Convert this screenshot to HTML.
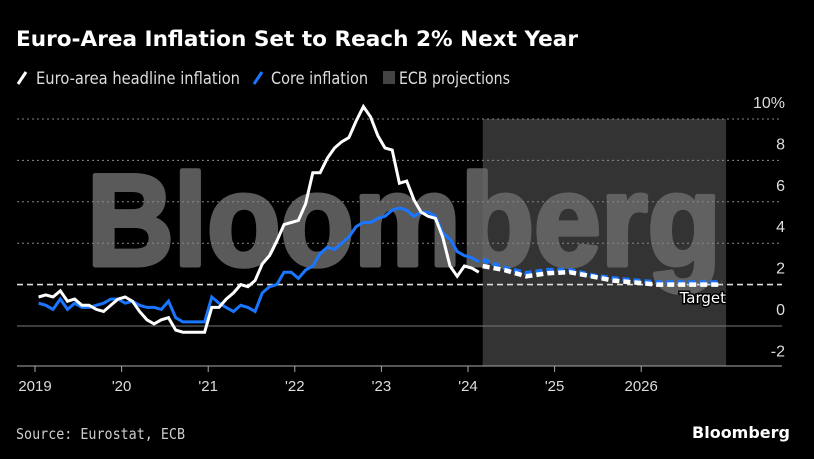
<!DOCTYPE html>
<html><head><meta charset="utf-8"><style>
body{margin:0;background:#000;width:814px;height:459px;overflow:hidden;font-family:"DejaVu Sans","Liberation Sans",sans-serif;}
svg{position:absolute;left:0;top:0}
</style></head><body>
<svg width="814" height="459">
<text x="16" y="46" fill="#fff" font-size="21" font-weight="bold" textLength="562" lengthAdjust="spacingAndGlyphs">Euro-Area Inflation Set to Reach 2% Next Year</text>
<g font-size="17" fill="#ddd">
<line x1="18" y1="84" x2="26" y2="72" stroke="#fff" stroke-width="3"/>
<text x="36" y="84" textLength="204" lengthAdjust="spacingAndGlyphs">Euro-area headline inflation</text>
<line x1="254" y1="84" x2="262" y2="72" stroke="#1a75ff" stroke-width="3"/>
<text x="271" y="84" textLength="97" lengthAdjust="spacingAndGlyphs">Core inflation</text>
<rect x="383" y="71" width="12" height="13" fill="#444"/>
<text x="399" y="84" textLength="111" lengthAdjust="spacingAndGlyphs">ECB projections</text>
</g>
<g id="plot"></g>
<text x="16" y="439" fill="#ccc" font-size="15" textLength="169" lengthAdjust="spacingAndGlyphs" font-family="'DejaVu Sans Mono','Liberation Mono',monospace">Source: Eurostat, ECB</text>
<text x="790" y="438" fill="#fff" font-size="16" font-weight="bold" text-anchor="end">Bloomberg</text>
</svg>
<script>
const headline=[1.4,1.5,1.4,1.7,1.2,1.3,1.0,1.0,0.8,0.7,1.0,1.3,1.4,1.2,0.7,0.3,0.1,0.3,0.4,-0.2,-0.3,-0.3,-0.3,-0.3,0.9,0.9,1.3,1.6,2.0,1.9,2.2,3.0,3.4,4.1,4.9,5.0,5.1,5.9,7.4,7.4,8.1,8.6,8.9,9.1,9.9,10.6,10.1,9.2,8.6,8.5,6.9,7.0,6.1,5.5,5.3,5.2,4.3,2.9,2.4,2.9,2.8,2.6];
const core=[1.1,1.0,0.8,1.3,0.8,1.1,0.9,0.9,1.0,1.1,1.3,1.3,1.1,1.2,1.0,0.9,0.9,0.8,1.2,0.4,0.2,0.2,0.2,0.2,1.4,1.1,0.9,0.7,1.0,0.9,0.7,1.6,1.9,2.0,2.6,2.6,2.3,2.7,2.9,3.5,3.8,3.7,4.0,4.3,4.8,5.0,5.0,5.2,5.3,5.6,5.7,5.6,5.3,5.5,5.5,5.3,4.5,4.2,3.6,3.4,3.3,3.1];
const projHeadline=[2.9,2.7,2.4,2.55,2.6,2.4,2.2,2.1,2.0,2.0,2.0,2.0];
const projCore=[3.2,2.8,2.55,2.7,2.7,2.45,2.3,2.2,2.1,2.1,2.1,2.1];
const yTicks=[10,8,6,4,2,0,-2];
const xTicks=[2019,2020,2021,2022,2023,2024,2025,2026];
const xLabels=["2019","'20","'21","'22","'23","'24","'25","2026"];
const projStart=2024.17, projEnd=2026.98;

const NS="http://www.w3.org/2000/svg";
const g=document.getElementById('plot');
const X=t=>35+(t-2019)*86.6;
const Y=v=>326-v*20.7;
function mk(tag,attrs,parent){const e=document.createElementNS(NS,tag);for(const k in attrs)e.setAttribute(k,attrs[k]);(parent||g).appendChild(e);return e;}
let r=mk('rect',{x:X(projStart),y:Y(10),width:X(projEnd)-X(projStart),height:366-Y(10),fill:'#333'});


let wg=mk('g',{opacity:'0.85'});
let w=mk('text',{x:87,y:265,fill:'#6a6a6a',stroke:'#6a6a6a','stroke-width':'5','stroke-linejoin':'round','font-size':'130','font-weight':'bold','font-family':'Liberation Sans,sans-serif',textLength:'634',lengthAdjust:'spacingAndGlyphs'},wg);
w.textContent='Bloomberg';


yTicks.forEach(v=>{
  if(v===10||v===8||v===6||v===4){
    let l=mk('line',{x1:17,x2:782,y1:Y(v),y2:Y(v),stroke:'#888','stroke-width':1,'stroke-dasharray':'2,3'});
    
    
  }
  if(v===0){
    let l=mk('line',{x1:17,x2:782,y1:Y(0),y2:Y(0),stroke:'#777','stroke-width':1});
    
    
  }
  let t=mk('text',{x:785,y:Y(v)-11,fill:'#ddd','font-size':'16','text-anchor':'end','font-family':'Liberation Sans,sans-serif'});
  t.textContent=v===10?'10%':String(v);
  
  
});
let tl=mk('line',{x1:17,x2:782,y1:Y(2),y2:Y(2),stroke:'#ddd','stroke-width':1.6,'stroke-dasharray':'6,4'});


let ax=mk('line',{x1:17,x2:782,y1:366,y2:366,stroke:'#aaa','stroke-width':1});


xTicks.forEach((t,i)=>{
  let tk=mk('line',{x1:X(t),x2:X(t),y1:366,y2:372,stroke:'#aaa'});
  
  
  let lb=mk('text',{x:X(t),y:391,fill:'#ddd','font-size':'15','text-anchor':'middle','font-family':'Liberation Sans,sans-serif'});
  lb.textContent=xLabels[i];
  
  
});
function pts(arr){return arr.map((v,i)=>X(2019+(i+0.5)/12).toFixed(1)+','+Y(v).toFixed(1)).join(' ');}
function ppts(arr){const n=arr.length;
  return arr.map((v,i)=>X(projStart+(i/(n-1))*(projEnd-0.05-projStart)).toFixed(1)+','+Y(v).toFixed(1)).join(' ');}
let c=mk('polyline',{points:pts(core),fill:'none',stroke:'#1a75ff','stroke-width':3,'stroke-linejoin':'miter'});


let h=mk('polyline',{points:pts(headline),fill:'none',stroke:'#fff','stroke-width':3});


let pc=mk('polyline',{points:ppts(projCore),fill:'none',stroke:'#1a75ff','stroke-width':4.5,'stroke-dasharray':'7,4'});


let ph=mk('polyline',{points:ppts(projHeadline),fill:'none',stroke:'#fff','stroke-width':4.5,'stroke-dasharray':'7,4'});


let tt=mk('text',{x:726,y:303,fill:'#fff','font-size':'15','text-anchor':'end',stroke:'#000','stroke-width':3,'paint-order':'stroke'});
tt.textContent='Target';


</script>
</body></html>
